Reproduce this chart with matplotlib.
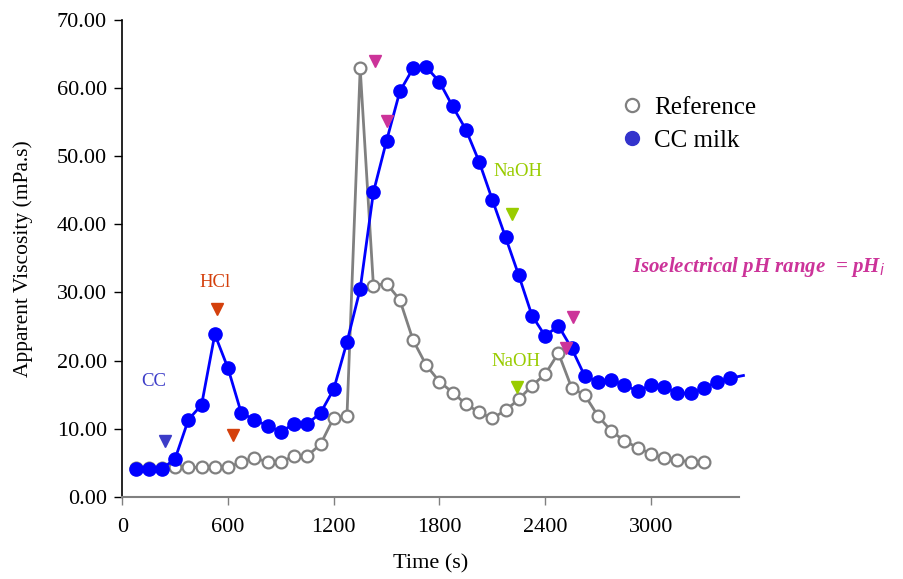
import numpy as np
import matplotlib.pyplot as plt
from matplotlib.lines import Line2D

# sampling times (s)
t_ref = np.arange(75, 3301, 75)
t_cc = np.arange(75, 3451, 75)

ref = [4.2, 4.2, 4.2, 4.3, 4.3, 4.3, 4.3, 4.3, 5.1, 5.7, 5.1, 5.1,
       6.0, 6.0, 7.7, 11.6, 11.85, 62.9, 31.0, 31.3, 28.9, 23.0, 19.3, 16.9,
       15.3, 13.6, 12.4, 11.5, 12.7, 14.3, 16.3, 18.0, 21.1, 16.0, 14.9, 11.85,
       9.65, 8.2, 7.2, 6.3, 5.7, 5.4, 5.1, 5.1]

cc = [4.07, 4.07, 4.07, 5.6, 11.3, 13.5, 23.85, 18.85, 12.3, 11.3, 10.4, 9.55,
      10.7, 10.7, 12.3, 15.8, 22.7, 30.5, 44.7, 52.3, 59.5, 62.9, 63.1, 60.9,
      57.3, 53.9, 49.2, 43.6, 38.1, 32.5, 26.6, 23.6, 25.1, 21.8, 17.7, 16.9,
      17.1, 16.4, 15.5, 16.4, 16.1, 15.2, 15.2, 15.9, 16.9, 17.4]
# line runs a little past the last marker
t_end, cc_end = 3525, 17.8

# additions (arrow markers)
add_t = [242, 538, 628, 1432, 1500, 2213, 2241, 2557, 2519]
add_v = [8.2, 27.5, 9.06, 64.0, 55.1, 41.5, 16.15, 26.4, 21.9]
add_c = ['#3c3cc8', '#d4400c', '#d4400c', '#cc3399', '#cc3399',
         '#99cc00', '#99cc00', '#cc3399', '#cc3399']

labels = [("CC", 180, 16.9, '#3c3cc8'), ("HCl", 525, 31.4, '#d4400c'),
          ("NaOH", 2245, 47.8, '#99cc00'), ("NaOH", 2236, 19.8, '#99cc00')]

plt.rcParams['font.family'] = ['Liberation Serif', 'DejaVu Serif']

fig = plt.figure(figsize=(9.04, 5.79), dpi=100)
ax = fig.add_axes([0.1353, 0.1421, 0.6822, 0.8234])

ax.plot(t_ref, ref, color='#808080', lw=2, marker='o', ms=8.5, mfc='white',
        mec='#808080', mew=1.6, zorder=3)
ax.plot(list(t_cc) + [t_end], cc + [cc_end], color='#0000ff', lw=2,
        marker='o', ms=9.5, mfc='#0000ff', mec='#0000ff',
        markevery=list(range(len(cc))), clip_on=False, zorder=4)

for tt, vv, c in zip(add_t, add_v, add_c):
    ax.plot(tt, vv, marker='v', ms=9, color=c, ls='none', zorder=5)

for s, x, y, c in labels:
    ax.text(x, y, s, color=c, fontsize=13.5, ha='center', va='center')

ax.text(2890, 33.7, r"Isoelectrical pH range  = pH$_\mathbf{\mathit{i}}$",
        color='#cc3399', fontsize=15, fontweight='bold', fontstyle='italic',
        ha='left', va='center')

ax.set_xlim(0, 3500)
ax.set_ylim(0, 70)
ax.set_xticks(np.arange(0, 3001, 600))
ax.set_yticks(np.arange(0, 71, 10))
ax.set_yticklabels([f"{v:.2f}" for v in np.arange(0, 71, 10)])
ax.tick_params(axis='both', labelsize=16, direction='out', length=6, width=1)
ax.tick_params(axis='x', pad=9, color='#808080')
ax.tick_params(axis='y', pad=5)
ax.spines['top'].set_visible(False)
ax.spines['right'].set_visible(False)
ax.spines['bottom'].set_color('#808080')
ax.spines['bottom'].set_linewidth(1.5)
ax.spines['left'].set_linewidth(1.2)

ax.set_xlabel('Time (s)', fontsize=16, labelpad=13)
ax.set_ylabel('Apparent Viscosity (mPa.s)', fontsize=15.5, labelpad=17)

handles = [Line2D([], [], ls='none', marker='o', ms=9.5, mfc='white',
                  mec='#808080', mew=1.6),
           Line2D([], [], ls='none', marker='o', ms=10, color='#3333cc')]
ax.legend(handles, ['Reference', 'CC milk'], loc='upper left',
          bbox_to_anchor=(0.688, 0.833), bbox_transform=fig.transFigure,
          frameon=False, fontsize=18, handlelength=0.8, handletextpad=0.5,
          labelspacing=0.4, borderpad=0, borderaxespad=0)

fig.savefig('out.png', dpi=100)
